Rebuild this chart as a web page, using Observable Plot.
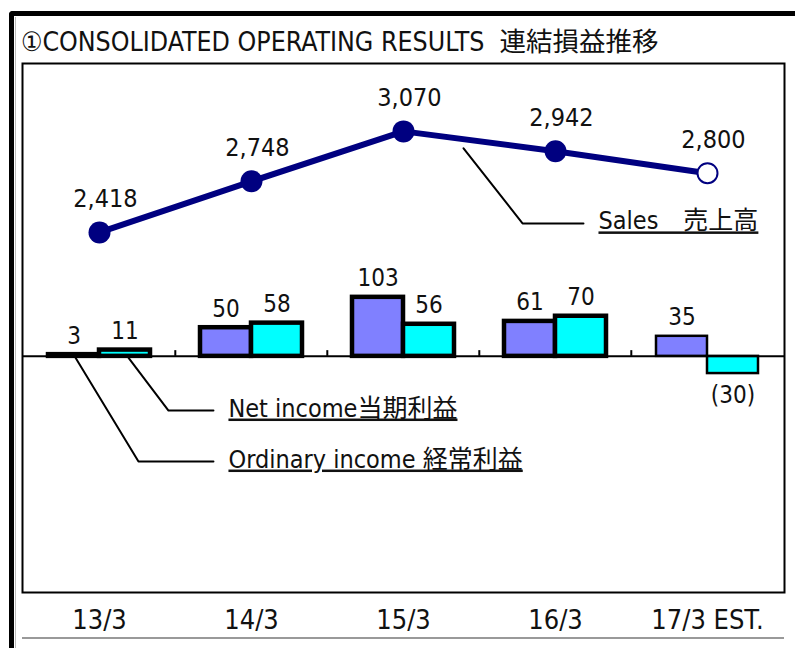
<!DOCTYPE html>
<html>
<head>
<meta charset="utf-8">
<script src="https://cdn.jsdelivr.net/npm/d3@7"></script>
<script src="https://cdn.jsdelivr.net/npm/@observablehq/plot@0.6"></script>
<style>
  html, body { margin: 0; padding: 0; background: #fff; }
  body { width: 795px; height: 648px; position: relative; overflow: hidden;
         font-family: "DejaVu Sans Condensed", "DejaVu Sans", "Noto Sans CJK JP", sans-serif; font-stretch: condensed; }
  #frame { position: absolute; left: 9px; top: 11px; width: 800px; height: 660px;
           border-left: 5px solid #000; border-top: 5px solid #000; border-top-left-radius: 4px; }
  #inner-edge { position: absolute; left: 15px; top: 17px; width: 1px; height: 640px; background: #bbb; }
  #title { position: absolute; left: 21px; top: 26px; font-size: 26.5px; line-height: 32px; color: #111; white-space: pre; }
  #rule { position: absolute; left: 22px; top: 637px; width: 762px; height: 2px; background: #999; }
  #chart { position: absolute; left: 18px; top: 59px; width: 770px; height: 593px; }
  #chart svg { position: absolute; left: 0; top: 0; }
</style>
</head>
<body>
<div id="frame"></div>
<div id="inner-edge"></div>
<div id="title"></div>
<div id="rule"></div>
<div id="chart"></div>
<script>
// ---- data ----
const titleText = "①CONSOLIDATED OPERATING RESULTS  連結損益推移";
const categories = ["13/3", "14/3", "15/3", "16/3", "17/3 EST."];
const sales = [2418, 2748, 3070, 2942, 2800];
const ordinaryIncome = [3, 50, 103, 61, 35];
const netIncome = [11, 58, 56, 70, -30];
const salesName = "Sales　売上高";
const netName = "Net income当期利益";
const ordinaryName = "Ordinary income 経常利益";
// annotation leader points: [category index, value on income axis]
const salesLeader = [[2.394, 363], [2.781, 232], [3.181, 232]];
const netLeader = [[0.196, -2.5], [0.458, -94.5], [0.753, -94.5]];
const ordinaryLeader = [[-0.152, -2.5], [0.261, -183.5], [0.753, -183.5]];

document.getElementById("title").textContent = titleText;

const isEst = c => c.includes("EST");
const W = 770, H = 593;
const M = {marginTop: 4, marginLeft: 4, marginRight: 4, marginBottom: 60};
const FONT = "'DejaVu Sans Condensed','DejaVu Sans','Noto Sans CJK JP',sans-serif";
const baseStyle = `background:transparent;overflow:visible;font-family:${FONT};font-stretch:condensed;color:#111;`;
const incomeDomain = [-412, 511];
const salesDomain = [95, 3508];
const band = 762 / categories.length;

const ordRows = categories.map((c, i) => ({cat: c, v: ordinaryIncome[i]}));
const netRows = categories.map((c, i) => ({cat: c, v: netIncome[i]}));
const salesRows = categories.map((c, i) => ({cat: c, v: sales[i]}));
const fmtIncome = d => d.v < 0 ? `(${Math.abs(d.v)})` : String(d.v);
const sw = d => isEst(d.cat) ? 2.5 : 4.5;

// layer 1: bars, frame, zero line, category axis
const bars = Plot.plot({
  width: W, height: H, ...M,
  style: baseStyle + "font-size:27px;",
  x: {type: "band", domain: categories, padding: 0, label: null, tickSize: 0, tickPadding: 17},
  y: {domain: incomeDomain, axis: null},
  marks: [
    Plot.frame({stroke: "#000", strokeWidth: 2}),
    Plot.barY(ordRows, {x: "cat", y: "v", fill: "#8080ff", stroke: "#000", strokeWidth: sw, insetLeft: 25, insetRight: 76}),
    Plot.barY(netRows, {x: "cat", y: "v", fill: "#00ffff", stroke: "#000", strokeWidth: sw, insetLeft: 76, insetRight: 25}),
    Plot.ruleY([0], {stroke: "#000", strokeWidth: 2}),
    Plot.ruleX(categories.slice(1), {x: d => d, y1: 0, y2: 10, dx: -band / 2, stroke: "#000", strokeWidth: 2}),
    Plot.text(ordRows.filter(d => d.v >= 0), {x: "cat", y: "v", text: fmtIncome, dx: -25.5, dy: -11, lineAnchor: "bottom", fontSize: 24, fill: "#111"}),
    Plot.text(netRows.filter(d => d.v >= 0), {x: "cat", y: "v", text: fmtIncome, dx: 25.5, dy: -11, lineAnchor: "bottom", fontSize: 24, fill: "#111"}),
    Plot.text(netRows.filter(d => d.v < 0), {x: "cat", y: "v", text: fmtIncome, dx: 25.5, dy: 12, lineAnchor: "top", fontSize: 24, fill: "#111"})
  ]
});

// layer 2: sales line
const line = Plot.plot({
  width: W, height: H, ...M,
  style: baseStyle,
  x: {type: "band", domain: categories, padding: 0, axis: null},
  y: {domain: salesDomain, axis: null},
  marks: [
    Plot.line(salesRows, {x: "cat", y: "v", stroke: "#000080", strokeWidth: 6}),
    Plot.dot(salesRows.filter(d => !isEst(d.cat)), {x: "cat", y: "v", r: 11, fill: "#000080"}),
    Plot.dot(salesRows.filter(d => isEst(d.cat)), {x: "cat", y: "v", r: 10, fill: "#fff", stroke: "#000080", strokeWidth: 2}),
    Plot.text(salesRows, {x: "cat", y: "v", text: d => d3.format(",")(d.v), dx: 6, dy: -33, fontSize: 25, fill: "#111"})
  ]
});

// layer 3: annotations
const leaders = [
  ...salesLeader.map(p => ({k: "s", x: p[0], y: p[1]})),
  ...netLeader.map(p => ({k: "n", x: p[0], y: p[1]})),
  ...ordinaryLeader.map(p => ({k: "o", x: p[0], y: p[1]}))
];
const labels = [
  {t: salesName, x: salesLeader[2][0], y: salesLeader[2][1]},
  {t: netName, x: netLeader[2][0], y: netLeader[2][1]},
  {t: ordinaryName, x: ordinaryLeader[2][0], y: ordinaryLeader[2][1]}
];
const notes = Plot.plot({
  width: W, height: H, ...M,
  style: baseStyle,
  x: {type: "linear", domain: [-0.5, categories.length - 0.5], axis: null},
  y: {domain: incomeDomain, axis: null},
  marks: [
    Plot.line(leaders, {x: "x", y: "y", z: "k", stroke: "#000", strokeWidth: 2}),
    Plot.text(labels, {x: "x", y: "y", text: "t", textAnchor: "start", dx: 15, dy: -2, fontSize: 25, fill: "#111"})
  ]
});
d3.select(notes).selectAll("text").style("text-decoration", "underline");

const chart = document.getElementById("chart");
chart.append(bars, line, notes);
</script>
</body>
</html>
